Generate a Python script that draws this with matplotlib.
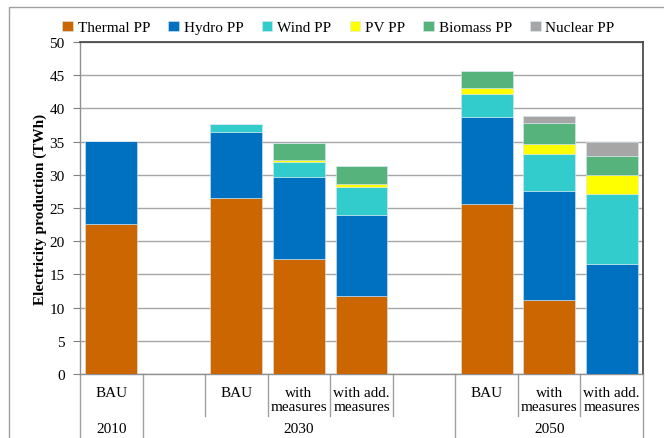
import matplotlib
matplotlib.use("Agg")
import matplotlib.pyplot as plt
import matplotlib.transforms as mtransforms
from matplotlib.patches import Rectangle
import numpy as np

plt.rcParams["font.family"] = ["Liberation Serif", "DejaVu Serif"]

# slots: 2010 BAU, gap, 2030 BAU, with, add, gap, 2050 BAU, with, add
SLOT_LABELS = ["BAU", "", "BAU", "with\nmeasures", "with add.\nmeasures", "",
               "BAU", "with\nmeasures", "with add.\nmeasures"]
BAR_SLOTS = [0, 2, 3, 4, 6, 7, 8]
YEARS = ["2010", "2030", "2050"]
YEAR_SPANS = [(0, 1), (1, 6), (6, 9)]

SERIES = ["Thermal PP", "Hydro PP", "Wind PP", "PV PP", "Biomass PP", "Nuclear PP"]
COLORS = ["#CC6600", "#0070C0", "#33CCCC", "#FFFF00", "#57B37C", "#A6A6A6"]

thermal = [22.6, 26.5, 17.3, 11.8, 25.6, 11.1, 0.0]
hydro = [12.5, 9.9, 12.4, 12.2, 13.1, 16.5, 16.6]
wind = [0.0, 1.2, 2.3, 4.1, 3.5, 5.6, 10.5]
pv = [0.0, 0.0, 0.2, 0.5, 0.9, 1.5, 2.8]
biomass = [0.0, 0.0, 2.6, 2.8, 2.6, 3.1, 3.0]
nuclear = [0.0, 0.0, 0.0, 0.0, 0.0, 1.1, 2.1]

values = [thermal, hydro, wind, pv, biomass, nuclear]

fig = plt.figure(figsize=(6.64, 4.39), dpi=100)
ax = fig.add_axes([80 / 664, 64 / 439, 563 / 664, 332 / 439])

# figure border
fig.patches.append(Rectangle((9 / 664, -0.1), 1.2, (439 - 8) / 439 + 0.1,
                             transform=fig.transFigure, fill=False,
                             edgecolor="#A0A0A0", linewidth=1.0))

x = np.array(BAR_SLOTS) + 0.5
bottom = np.zeros(len(x))
for name, vals, color in zip(SERIES, values, COLORS):
    ax.bar(x, vals, width=0.83, bottom=bottom, color=color, label=name,
           edgecolor="#D8E8F0", linewidth=0.4, zorder=3)
    bottom += np.array(vals)

ax.set_xlim(0, 9)
ax.set_ylim(0, 50)
ax.set_yticks(range(0, 51, 5))
ax.yaxis.grid(True, color="#A6A6A6", linewidth=1.0, zorder=0)
ax.set_xticks([])
ax.tick_params(axis="y", labelsize=11, length=5, color="#808080", pad=6)

for side in ["top", "right"]:
    ax.spines[side].set_color("#404040")
    ax.spines[side].set_linewidth(1.2)
for side in ["left", "bottom"]:
    ax.spines[side].set_color("#909090")
    ax.spines[side].set_linewidth(1.0)

ax.set_ylabel("Electricity production (TWh)", fontsize=11, fontweight="bold",
              labelpad=2)

# category table below the axis
trans = mtransforms.blended_transform_factory(ax.transData, ax.transAxes)
major = {0, 1, 6, 9}
for s in range(10):
    low = -0.3 if s in major else -0.127
    ax.plot([s, s], [0, low], transform=trans, color="#A0A0A0",
            linewidth=1.0, clip_on=False)

for s, lab in enumerate(SLOT_LABELS):
    if lab:
        ax.text(s + 0.5, -0.035, lab, transform=trans, ha="center", va="top",
                fontsize=11, linespacing=1.15)

for year, (a, b) in zip(YEARS, YEAR_SPANS):
    ax.text((a + b) / 2, -0.145, year, transform=trans, ha="center",
            va="top", fontsize=11)

ax.legend(loc="lower left", bbox_to_anchor=(-0.045, 1.0), ncol=6,
          frameon=False, fontsize=11, handlelength=0.7, handleheight=0.7,
          handletextpad=0.3, columnspacing=1.2, borderaxespad=0.1)

fig.savefig("out.png", dpi=100)
